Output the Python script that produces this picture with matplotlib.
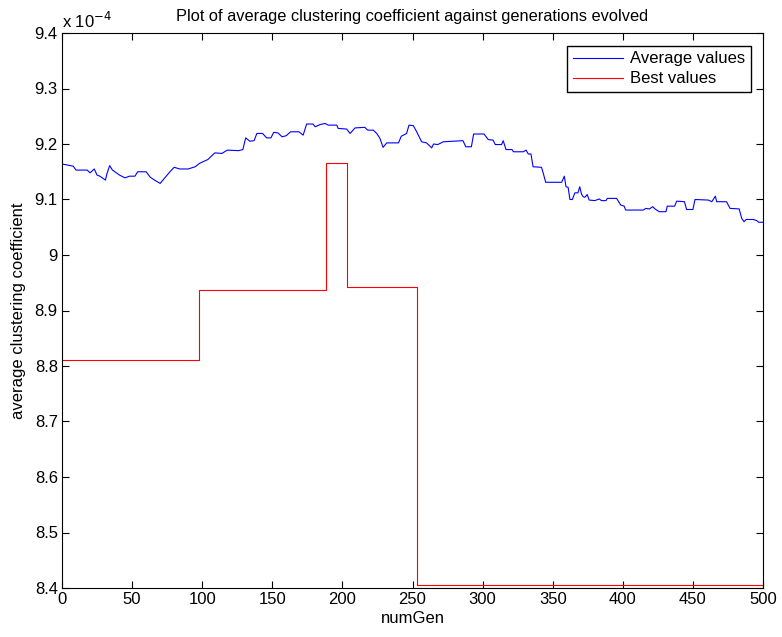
import matplotlib
matplotlib.use("Agg")
import matplotlib.pyplot as plt
from matplotlib.ticker import FuncFormatter, MultipleLocator

plt.rcParams['font.family'] = ['Liberation Sans', 'DejaVu Sans']

# Average values (units of 1e-4)
avg_gen = [0, 8, 10, 18, 20, 23, 25, 27, 31, 32, 34, 36, 41, 45, 48, 52, 54, 60, 63, 66,
           70, 72, 77, 80, 84, 90, 95, 98, 104, 109, 114, 118, 126, 129, 131, 134, 137, 139,
           143, 146, 149, 151, 154, 157, 160, 163, 169, 172, 174.5, 179, 180.6, 184, 187.6,
           190, 196, 197, 203, 205.5, 209, 216, 218, 222, 224.5, 226.8, 229, 231.6, 240, 242,
           245.8, 247.5, 250.6, 253, 256.5, 260, 263.7, 265, 268, 272, 286, 288, 292, 293.6,
           301, 304, 307.5, 309, 313.5, 314.7, 316.7, 321, 322, 329, 331, 332.6, 334.5, 336,
           342, 343.3, 345, 356.4, 358.3, 359.5, 361, 362.3, 364, 365.8, 368, 369.3, 370.5,
           371.7, 373, 374.6, 376, 380, 383.2, 384.8, 388, 389, 395.6, 398.5, 401, 402, 414.6,
           416.5, 419, 421.3, 423, 426, 430.8, 431.7, 437, 438.4, 444, 445.5, 450, 451.5, 461,
           463.5, 466, 467, 474, 476.5, 483, 484.8, 486.5, 488, 493, 495.5, 497, 500]
avg_val = [9.164, 9.160, 9.153, 9.153, 9.148, 9.155, 9.144, 9.142, 9.135, 9.146, 9.161, 9.153,
           9.144, 9.139, 9.142, 9.142, 9.150, 9.150, 9.140, 9.135, 9.129, 9.135, 9.150, 9.158,
           9.155, 9.155, 9.159, 9.165, 9.172, 9.184, 9.183, 9.189, 9.188, 9.190, 9.211, 9.205,
           9.206, 9.219, 9.219, 9.211, 9.211, 9.221, 9.220, 9.213, 9.215, 9.222, 9.222, 9.216,
           9.236, 9.236, 9.231, 9.235, 9.237, 9.234, 9.234, 9.228, 9.227, 9.219, 9.229, 9.230,
           9.225, 9.225, 9.219, 9.210, 9.194, 9.202, 9.202, 9.214, 9.219, 9.234, 9.233, 9.222,
           9.204, 9.202, 9.193, 9.200, 9.199, 9.204, 9.206, 9.195, 9.195, 9.218, 9.218, 9.208,
           9.207, 9.199, 9.199, 9.206, 9.190, 9.190, 9.186, 9.186, 9.189, 9.182, 9.182, 9.159,
           9.158, 9.147, 9.131, 9.131, 9.142, 9.123, 9.122, 9.100, 9.100, 9.112, 9.112, 9.123,
           9.110, 9.105, 9.104, 9.109, 9.099, 9.098, 9.101, 9.098, 9.098, 9.102, 9.102, 9.090,
           9.088, 9.081, 9.081, 9.084, 9.083, 9.087, 9.083, 9.078, 9.078, 9.088, 9.088, 9.097,
           9.096, 9.082, 9.082, 9.100, 9.099, 9.096, 9.106, 9.096, 9.096, 9.084, 9.083, 9.066,
           9.060, 9.064, 9.064, 9.062, 9.059, 9.059]

# Best values (units of 1e-4), step changes
best_gen = [0, 98, 188, 203, 253, 500]
best_val = [8.811, 8.937, 9.166, 8.943, 8.405, 8.405]

x_ticks = list(range(0, 501, 50))

fig = plt.figure(figsize=(7.82, 6.37), dpi=100)
ax = fig.add_axes([62/782, 49/637, 701/782, 555/637])

ax.plot(avg_gen, avg_val, color=(0, 0, 1), lw=0.8, label='Average values')
ax.step(best_gen, best_val, where='post', color=(1, 0, 0), lw=0.8, label='Best values')

ax.set_xlim(0, 500)
ax.set_ylim(8.4, 9.4)
ax.set_xticks(x_ticks)
ax.yaxis.set_major_locator(MultipleLocator(0.1))
ax.yaxis.set_major_formatter(FuncFormatter(lambda v, p: f"{round(v, 1):g}"))
ax.tick_params(direction='in', top=True, right=True, labelsize=12, length=5, width=0.8, pad=3)
for s in ax.spines.values():
    s.set_linewidth(0.8)

ax.set_title('Plot of average clustering coefficient against generations evolved', fontsize=11.8, pad=9)
ax.set_xlabel('numGen', fontsize=12, labelpad=3)
ax.set_ylabel('average clustering coefficient', fontsize=12, labelpad=6)
ax.text(0.0, 1.004, r'x 10$^{-4}$', transform=ax.transAxes, fontsize=12, ha='left', va='bottom')

leg = ax.legend(loc='upper right', fontsize=12, fancybox=False, framealpha=1,
                edgecolor='black', borderaxespad=0.75, handlelength=3.0,
                handletextpad=0.4, borderpad=0.35, labelspacing=0.3)
leg.get_frame().set_linewidth(1.0)

fig.savefig('out.png', dpi=100)
